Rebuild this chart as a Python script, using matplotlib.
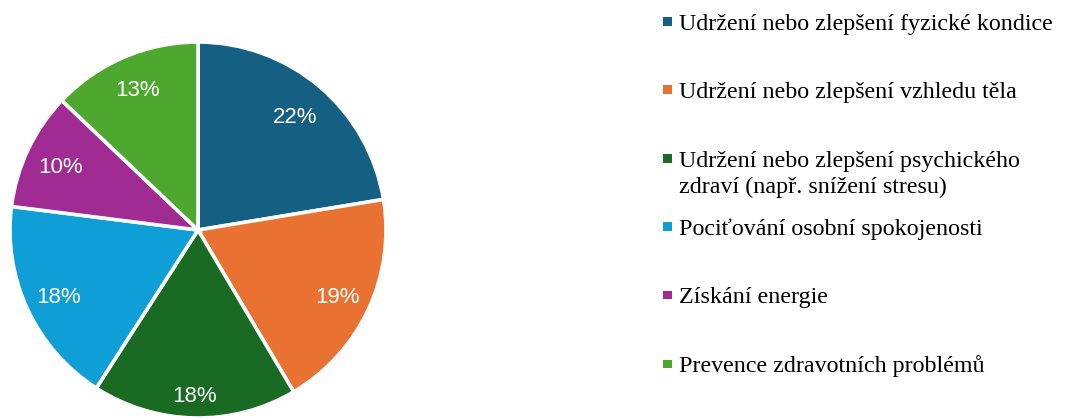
import matplotlib
matplotlib.use("Agg")
import matplotlib.pyplot as plt
from matplotlib.patches import Rectangle
import numpy as np

categories = [
    "Udržení nebo zlepšení fyzické kondice",
    "Udržení nebo zlepšení vzhledu těla",
    "Udržení nebo zlepšení psychického\nzdraví (např. snížení stresu)",
    "Pociťování osobní spokojenosti",
    "Získání energie",
    "Prevence zdravotních problémů",
]
values = [22.4, 19.1, 17.6, 17.9, 10.1, 12.9]
colors = ["#156082", "#E97132", "#196B24", "#0F9ED5", "#A02B93", "#4EA72E"]

# layout: label distance (fraction of radius) for each percent label
label_dist = [0.80, 0.82, 0.87, 0.82, 0.81, 0.82]

W, H = 1066, 419
fig = plt.figure(figsize=(W / 100, H / 100), dpi=100)

# pie axes: center (198,230), radius 188 px
cx, cy, r = 198, 230, 188
ax = fig.add_axes([(cx - r) / W, (H - cy - r) / H, 2 * r / W, 2 * r / H])
wedges, texts, autotexts = ax.pie(
    values, colors=colors, startangle=90, counterclock=False,
    autopct=lambda p: f"{p:.0f}%", pctdistance=0.8,
    wedgeprops=dict(edgecolor="white", linewidth=2.6),
    textprops=dict(color="white", fontsize=16, family="Liberation Sans"),
)
for w, t, d in zip(wedges, autotexts, label_dist):
    w.set_clip_on(False)
    ang = np.deg2rad((w.theta1 + w.theta2) / 2)
    t.set_position((d * np.cos(ang), d * np.sin(ang)))
    t.set_va("center_baseline")
ax.set_xlim(-1, 1)
ax.set_ylim(-1, 1)
ax.set_aspect("equal")
ax.axis("off")

# legend (manual, Excel-like)
baselines = [30, 98, 167, 235, 303, 372]
line_gap = 26
for lab, col, yb in zip(categories, colors, baselines):
    fig.patches.append(Rectangle((663 / W, 1 - (yb - 4) / H), 8.5 / W, 8.5 / H,
                                 transform=fig.transFigure, facecolor=col,
                                 edgecolor="none"))
    for i, line in enumerate(lab.split("\n")):
        fig.text(679 / W, 1 - (yb + i * line_gap) / H, line,
                 family="Liberation Serif", fontsize=17.3, color="black",
                 va="baseline", ha="left")

fig.savefig("out.png", dpi=100)
